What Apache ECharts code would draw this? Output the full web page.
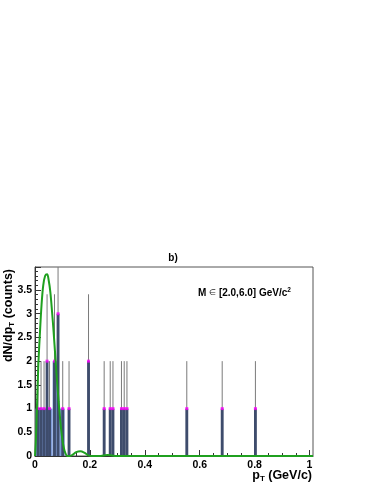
<!DOCTYPE html>
<html>
<head>
<meta charset="utf-8">
<script src="https://cdn.jsdelivr.net/npm/echarts@6/dist/echarts.min.js"></script>
<style>
  html, body { margin: 0; padding: 0; background: #fff; }
  #chart { width: 374px; height: 484px; }
</style>
</head>
<body>
<div id="chart"></div>
<script>
// bin centres (GeV/c), counts and errors of the histogram
var binPt = [0.011, 0.022, 0.033, 0.044, 0.053, 0.071, 0.084, 0.101, 0.124, 0.195,
             0.252, 0.274, 0.284, 0.315, 0.325, 0.335, 0.553, 0.682, 0.803];
var binCounts = [1, 1, 1, 2, 1, 2, 3, 1, 1, 2, 1, 1, 1, 1, 1, 1, 1, 1, 1];
var binErrors = [1, 1, 1, 1.41, 1, 1.41, 1.73, 1, 1, 1.41, 1, 1, 1, 1, 1, 1, 1, 1, 1];

// light filled part of the histogram at low pT: [from, to, height]
var fillFrom = [0.002, 0.064, 0.088];
var fillTo = [0.064, 0.080, 0.108];
var fillHeight = [1, 2, 1];

// fit curve
var fitX = [0, 0.003, 0.007, 0.012, 0.018, 0.024, 0.030, 0.037, 0.044, 0.050, 0.056, 0.062,
            0.068, 0.074, 0.080, 0.086, 0.092, 0.098, 0.104, 0.110, 0.118, 0.128, 0.138,
            0.150, 0.165, 0.180, 0.192, 0.205, 0.235, 0.250, 0.265, 0.280, 0.295, 1.0128];
var fitY = [0, 0.3, 1.0, 1.9, 2.6, 3.2, 3.6, 3.8, 3.83, 3.7, 3.45, 3.05,
            2.6, 2.1, 1.6, 1.15, 0.75, 0.42, 0.2, 0.07, 0.0, 0.0, 0.03,
            0.08, 0.1, 0.07, 0.02, 0.0, 0.0, 0.01, 0.02, 0.01, 0.0, 0];

var xMax = 1.0128;
var yMax = 3.985;
var binWidth = 0.0105;

var font = '"Liberation Sans", Arial, sans-serif';

var fillData = fillFrom.map(function (v, i) { return [v, fillTo[i], fillHeight[i]]; });
var barData = binPt.map(function (v, i) { return [v - binWidth / 2, v + binWidth / 2, binCounts[i]]; });
var errData = binPt.map(function (v, i) { return [v, binCounts[i] - binErrors[i], binCounts[i] + binErrors[i]]; });
var markerData = binPt.map(function (v, i) { return [v, binCounts[i]]; });
var fitData = fitX.map(function (v, i) { return [v, fitY[i]]; });

function rectRenderer(color) {
  return function (params, api) {
    var p0 = api.coord([api.value(0), api.value(2)]);
    var p1 = api.coord([api.value(1), 0]);
    return {
      type: 'rect',
      shape: { x: p0[0], y: p0[1], width: p1[0] - p0[0], height: p1[1] - p0[1] },
      style: { fill: color }
    };
  };
}

var titleRich = {
  b: { fontFamily: font, fontWeight: 'bold', fontSize: 12.5, lineHeight: 14, fill: '#000' },
  s: { fontFamily: font, fontWeight: 'bold', fontSize: 8, lineHeight: 10, padding: [6, 0, 0, 0], verticalAlign: 'bottom', fill: '#000' }
};

var chart = echarts.init(document.getElementById('chart'));
chart.setOption({
  animation: false,
  backgroundColor: '#fff',
  grid: [
    { left: 35, top: 267, width: 278, height: 189, show: true, borderColor: '#555', borderWidth: 1, backgroundColor: 'transparent' },
    { left: 35, top: 267, width: 278 / xMax, height: 189, show: false }
  ],
  xAxis: [
    {
      type: 'value', gridIndex: 0, min: 0, max: xMax,
      axisLine: { show: true, lineStyle: { color: '#333', width: 1 } },
      axisTick: { show: false }, axisLabel: { show: false }, splitLine: { show: false }
    },
    {
      type: 'value', gridIndex: 1, min: 0, max: 1, interval: 0.2,
      axisLine: { show: false },
      axisTick: { show: true, inside: true, length: 6, lineStyle: { color: '#333' } },
      minorTick: { show: true, splitNumber: 4, length: 3, lineStyle: { color: '#333' } },
      axisLabel: {
        margin: 4, color: '#000', fontFamily: font, fontWeight: 'bold', fontSize: 10.5,
        formatter: function (v) { return String(+v.toFixed(1)); }
      },
      splitLine: { show: false }
    }
  ],
  yAxis: [
    {
      type: 'value', gridIndex: 0, min: 0, max: yMax, interval: 0.5,
      axisLine: { show: true, lineStyle: { color: '#333', width: 1 } },
      axisTick: { show: true, inside: true, length: 6, lineStyle: { color: '#333' } },
      minorTick: { show: true, splitNumber: 5, length: 3, lineStyle: { color: '#333' } },
      axisLabel: {
        margin: 3, color: '#000', fontFamily: font, fontWeight: 'bold', fontSize: 10.5,
        showMaxLabel: false,
        formatter: function (v) { return Math.abs(v * 2 - Math.round(v * 2)) < 1e-6 ? String(+v.toFixed(1)) : ''; }
      },
      splitLine: { show: false }
    },
    { type: 'value', gridIndex: 1, min: 0, max: yMax, show: false }
  ],
  graphic: [
    {
      type: 'text', x: 173, y: 258,
      style: { text: 'b)', fill: '#000', font: 'bold 10px ' + font, align: 'center', verticalAlign: 'middle' }
    },
    {
      type: 'text', x: 198, y: 293,
      style: {
        text: '{b|M }{e|\u2208}{b| [2.0,6.0] GeV/c}{p|2}', align: 'left', verticalAlign: 'middle',
        rich: {
          b: { fontFamily: font, fontWeight: 'bold', fontSize: 10, lineHeight: 12, fill: '#000' },
          e: { fontFamily: font, fontSize: 8, lineHeight: 12, fill: '#222' },
          p: { fontFamily: font, fontWeight: 'bold', fontSize: 6.5, lineHeight: 6, verticalAlign: 'top', padding: [0, 0, 6, 0], fill: '#000' }
        }
      }
    },
    {
      type: 'text', x: 312, y: 476,
      style: { text: '{b|p}{s|T}{b| (GeV/c)}', align: 'right', verticalAlign: 'middle', rich: titleRich }
    },
    {
      type: 'text', x: 9, y: 269, rotation: Math.PI / 2,
      style: { text: '{b|dN/dp}{s|T}{b| (counts)}', align: 'right', verticalAlign: 'middle', rich: titleRich }
    }
  ],
  series: [
    {
      type: 'custom', xAxisIndex: 0, yAxisIndex: 0, clip: true,
      renderItem: rectRenderer('#7f9cd8'),
      encode: { x: [0, 1], y: 2 },
      data: fillData
    },
    {
      type: 'custom', xAxisIndex: 0, yAxisIndex: 0, clip: true,
      renderItem: function (params, api) {
        var p0 = api.coord([api.value(0), api.value(1)]);
        var p1 = api.coord([api.value(0), api.value(2)]);
        return {
          type: 'line',
          shape: { x1: p0[0], y1: p0[1], x2: p1[0], y2: p1[1] },
          style: { stroke: '#7a7a7a', lineWidth: 1 }
        };
      },
      encode: { x: 0, y: [1, 2] },
      data: errData
    },
    {
      type: 'custom', xAxisIndex: 0, yAxisIndex: 0, clip: true,
      renderItem: rectRenderer('#3e4c6c'),
      encode: { x: [0, 1], y: 2 },
      data: barData
    },
    {
      type: 'scatter', xAxisIndex: 0, yAxisIndex: 0,
      symbol: 'rect', symbolSize: [3, 3],
      itemStyle: { color: '#ff00ff' },
      data: markerData
    },
    {
      type: 'line', xAxisIndex: 0, yAxisIndex: 0,
      smooth: 0.35, symbol: 'none', clip: true,
      lineStyle: { color: '#1fa01f', width: 2 },
      data: fitData
    }
  ]
});
</script>
</body>
</html>
